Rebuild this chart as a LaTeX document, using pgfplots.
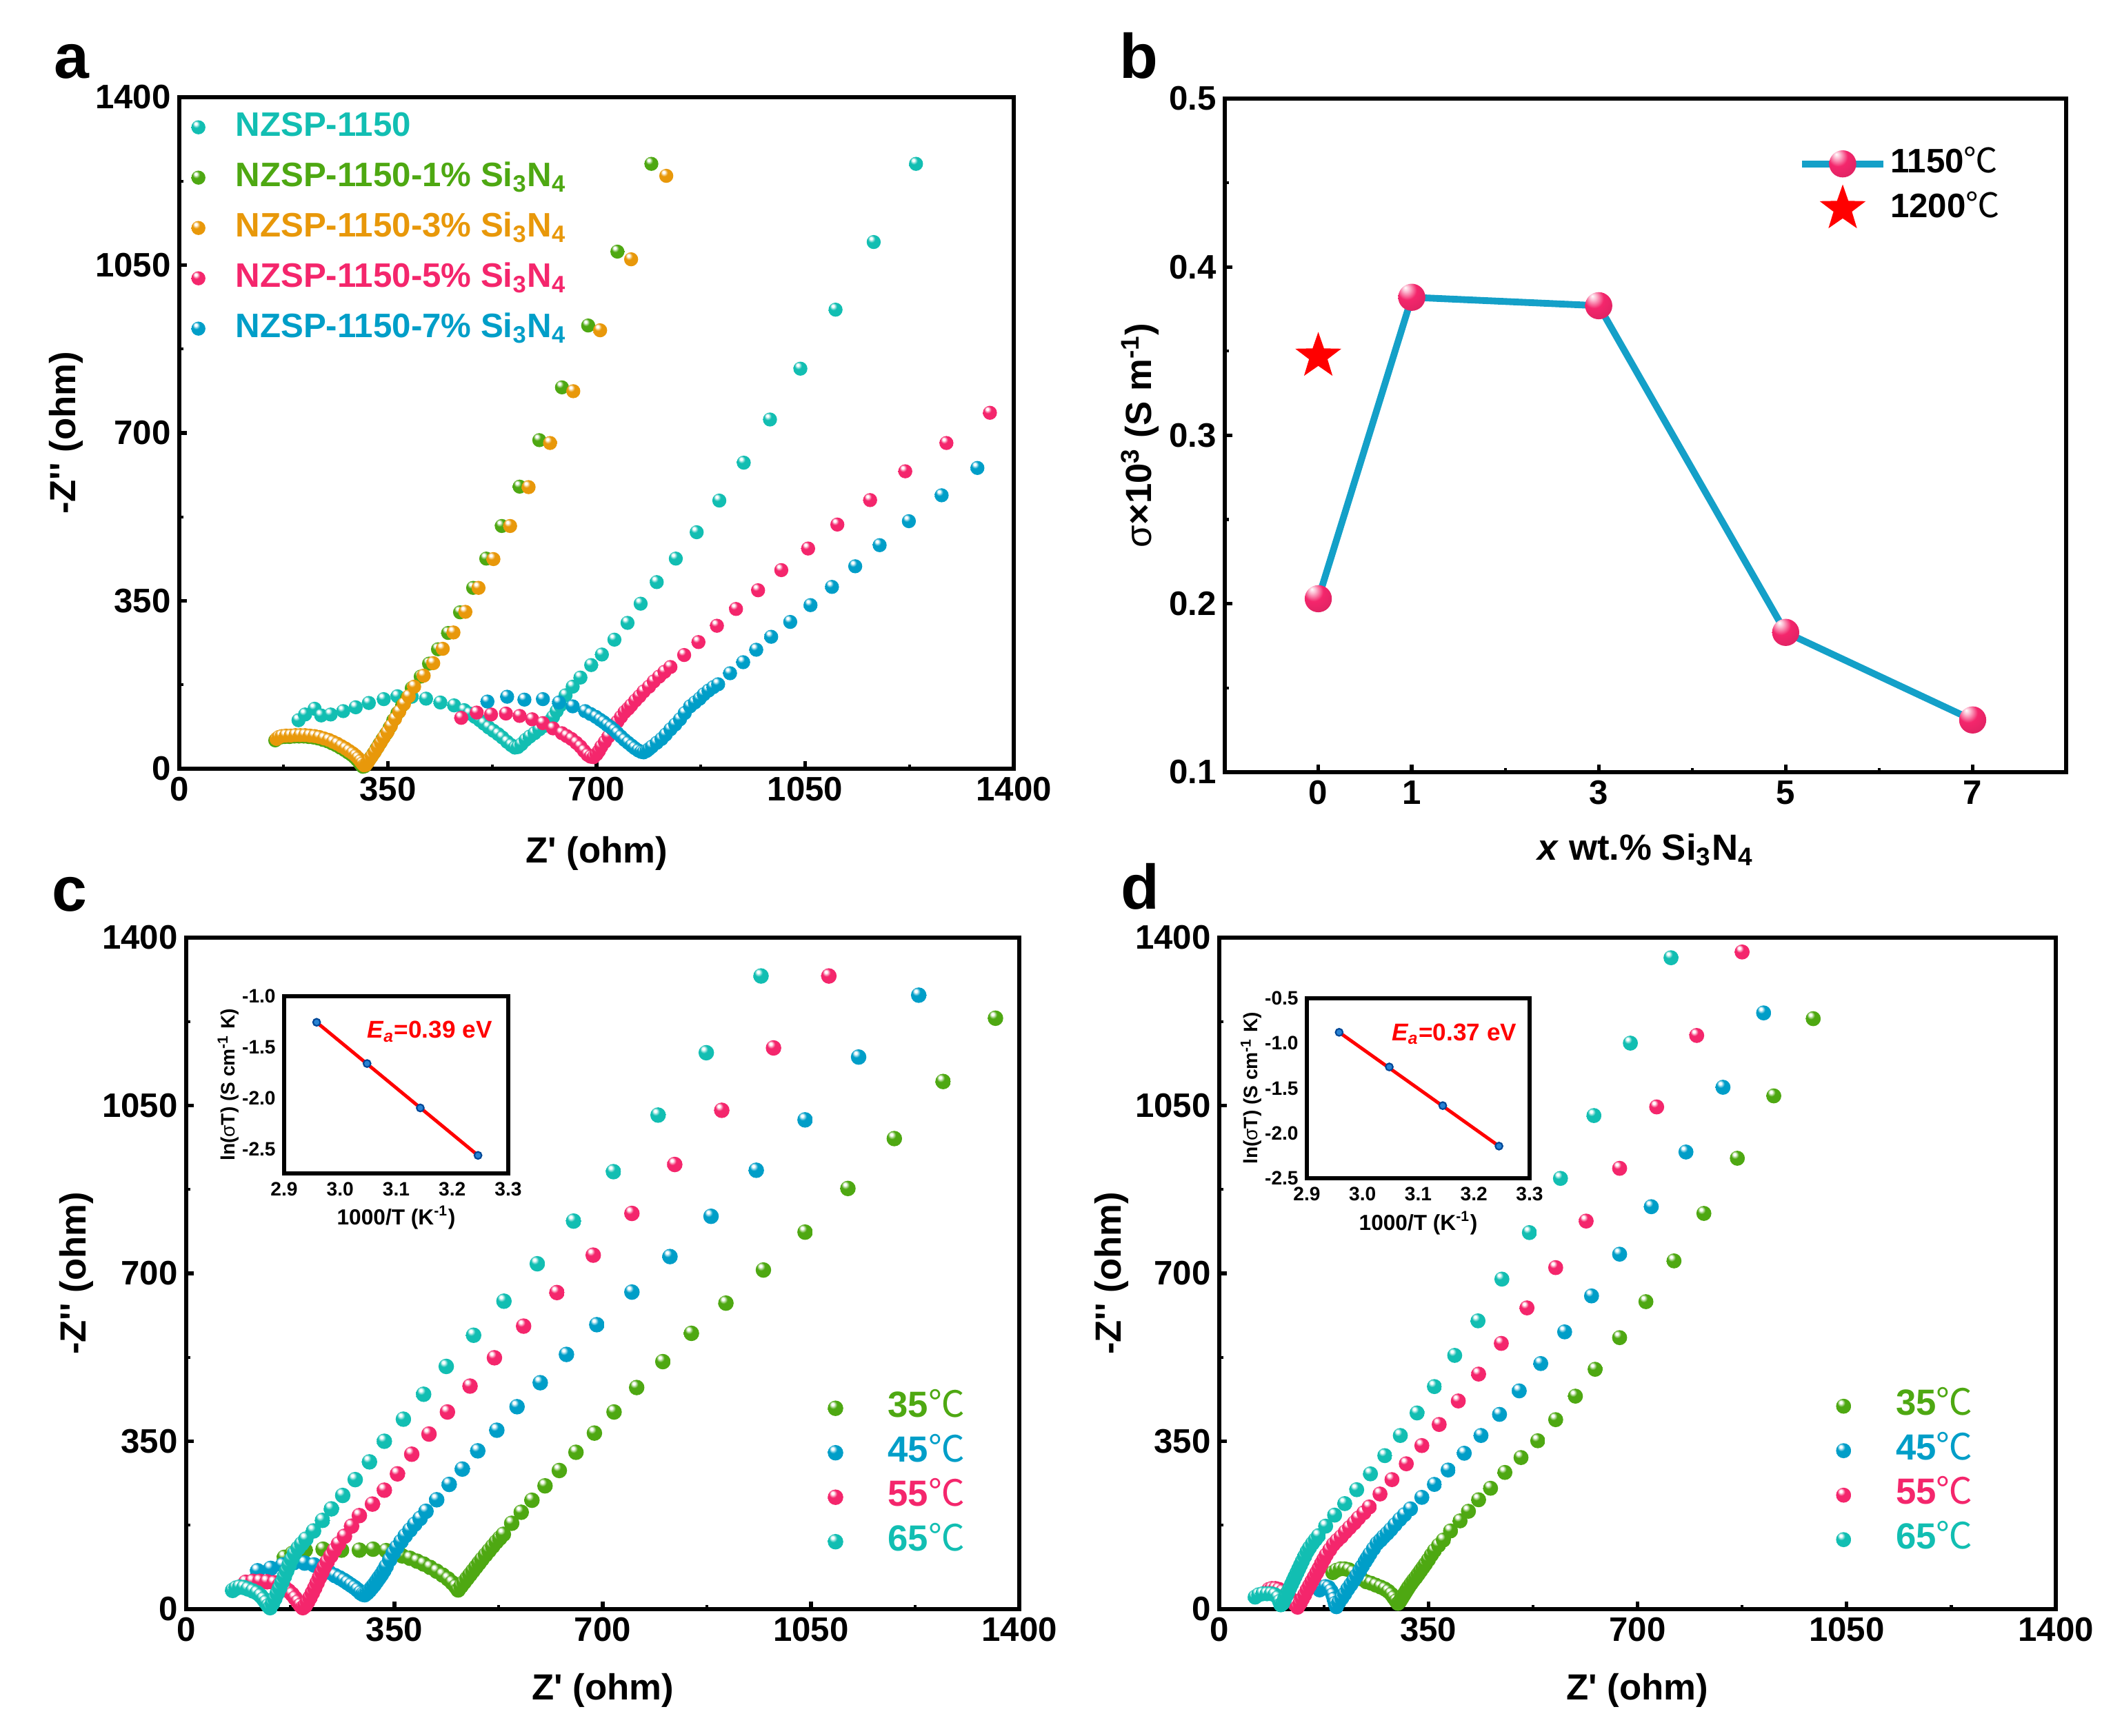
\documentclass[border=0pt]{standalone}
\usepackage{pgfplots}
\pgfplotsset{compat=1.18}
\usepackage{fontspec}
\setmainfont{Liberation Sans}
\newfontfamily\cjk{Noto Sans CJK SC}

\definecolor{cteal}{RGB}{18,190,178}
\definecolor{cgreen}{RGB}{78,168,18}
\definecolor{corange}{RGB}{232,152,10}
\definecolor{cpink}{RGB}{244,38,108}
\definecolor{cblue}{RGB}{0,158,200}
\definecolor{cbline}{RGB}{20,160,200}
\definecolor{cinsf}{RGB}{40,130,210}
\definecolor{cinsd}{RGB}{0,70,150}

\newcommand{\mkball}[2]{%
 \pgfdeclareradialshading{sh#1}{\pgfpoint{-10bp}{14bp}}{color(0bp)=(white); color(4bp)=(white); color(13bp)=(#2); color(48bp)=(#2); color(64bp)=(#2!78!black)}%
 \pgfdeclareplotmark{#1}{\pgfpathcircle{\pgfpointorigin}{\pgfplotmarksize}\pgfshadepath{sh#1}{0}\pgfusepath{}}%
}
\mkball{bteal}{cteal}
\mkball{bgreen}{cgreen}
\mkball{borange}{corange}
\mkball{bpink}{cpink}
\mkball{bblue}{cblue}
\pgfdeclareradialshading{shbigpink}{\pgfpoint{-12bp}{18bp}}{color(0bp)=(white); color(6bp)=(cpink!30!white); color(18bp)=(cpink); color(50bp)=(cpink!85!black); color(68bp)=(cpink!60!black)}
\pgfdeclareplotmark{bigpink}{\pgfpathcircle{\pgfpointorigin}{\pgfplotmarksize}\pgfshadepath{shbigpink}{0}\pgfusepath{}}
\pgfdeclareplotmark{fstar}{%
 \pgfpathmoveto{\pgfpointpolar{90}{\pgfplotmarksize}}%
 \pgfpathlineto{\pgfpointpolar{126}{0.4*\pgfplotmarksize}}%
 \pgfpathlineto{\pgfpointpolar{162}{\pgfplotmarksize}}%
 \pgfpathlineto{\pgfpointpolar{198}{0.4*\pgfplotmarksize}}%
 \pgfpathlineto{\pgfpointpolar{234}{\pgfplotmarksize}}%
 \pgfpathlineto{\pgfpointpolar{270}{0.4*\pgfplotmarksize}}%
 \pgfpathlineto{\pgfpointpolar{306}{\pgfplotmarksize}}%
 \pgfpathlineto{\pgfpointpolar{342}{0.4*\pgfplotmarksize}}%
 \pgfpathlineto{\pgfpointpolar{18}{\pgfplotmarksize}}%
 \pgfpathlineto{\pgfpointpolar{54}{0.4*\pgfplotmarksize}}%
 \pgfpathclose\pgfusepathqfill}

\newcommand{\degC}{{\cjk\mdseries ℃}}
\newcommand{\SiN}{Si\textsubscript{3}N\textsubscript{4}}

\pgfplotsset{
 base/.style={
  scale only axis, anchor=south west, clip=true,
  axis line style={line width=1.8pt},
  tick pos=left, tick align=inside,
  major tick length=0.11cm, minor tick length=0.06cm,
  major tick style={line width=1.5pt,black},
  minor tick style={line width=1.2pt,black},
  /pgf/number format/assume math mode=true,
  /pgf/number format/1000 sep={},
  tick label style={font=\fontsize{14}{16}\selectfont\bfseries},
  label style={font=\fontsize{15}{18}\selectfont\bfseries},
  legend cell align=left,
 },
 eis/.style={base, xmin=0,xmax=1400,ymin=0,ymax=1400,
  xtick={0,350,700,1050,1400}, ytick={0,350,700,1050,1400}, minor tick num=1,
  xlabel={Z\textquotesingle{} (ohm)}, ylabel={-Z\textquotesingle\textquotesingle{} (ohm)}},
 inset/.style={base, major tick length=0pt, minor tick num=0,
  axis line style={line width=1.8pt},
  tick label style={font=\fontsize{8}{9}\selectfont\bfseries},
  xmin=2.9, xmax=3.3, xtick={2.9,3.0,3.1,3.2,3.3},
  xticklabel style={/pgf/number format/.cd, fixed, fixed zerofill, precision=1},
  yticklabel style={/pgf/number format/.cd, fixed, fixed zerofill, precision=1},
  xlabel={1000/T (K\textsuperscript{-1})}, ylabel={ln({\mdseries σ}T) (S cm\textsuperscript{-1} K)},
  xlabel style={font=\fontsize{9}{10}\selectfont\bfseries, at={(axis description cs:0.5,-0.25)}, anchor=center},
  ylabel style={font=\fontsize{8}{9}\selectfont\bfseries, at={(axis description cs:-0.25,0.5)}, anchor=center}},
 lgd/.style={legend style={draw=none, fill=none, inner sep=0pt, column sep=0pt,
  nodes={inner xsep=0.1cm, inner ysep=0.05cm, text height=0.36cm, text depth=0.1cm}}},
}

\begin{document}
\begin{tikzpicture}
\path[use as bounding box] (0,0) rectangle (30.77,25.18);

% ---------------- panel a ----------------
\begin{axis}[eis, at={(2.6cm,14.03cm)}, width=12.1cm, height=9.74cm,
  xlabel style={at={(axis description cs:0.5,-0.126)}, anchor=center},
  ylabel style={at={(axis description cs:-0.136,0.5)}, anchor=center},
  lgd, legend style={at={(0,1)}, anchor=north west, yshift=-0.15cm, row sep=0.17cm,
   font=\fontsize{14}{16}\selectfont\bfseries},
  legend image code/.code={\draw[mark repeat=2,mark phase=2,#1] plot coordinates {(0cm,0cm) (0.27cm,0cm) (0.71cm,0cm)}; \path[draw=none,fill=none] (0cm,-0.05cm) rectangle (0.71cm,0.05cm);},
  mark size=2.9pt]
\addplot[only marks, mark=bteal] coordinates {(200,101) (211,113) (227,125) (238,111) (254,113) (275,120) (296,128) (318,137) (343,145) (366,151) (390,150) (414,146) (438,138) (461,132) (478,122) (487,115) (496,108) (504,101) (511,94) (519,86) (527,79) (535,72) (542,65) (550,56) (557,49) (563,44) (568,45) (574,51) (581,60) (588,67) (596,74) (604,82) (612,89) (620,98) (627,108) (633,120) (639,132) (648,153) (660,171) (673,190) (691,216) (709,238) (730,269) (752,304) (774,344) (801,389) (833,438) (868,493) (906,559) (947,638) (991,728) (1042,834) (1101,957) (1165,1098) (1236,1261)};
\addlegendentry{\textcolor{cteal}{NZSP-1150}}
\addplot[only marks, mark=bgreen] coordinates {(161,59) (165,63) (170,65) (177,66) (185,66) (193,67) (201,67) (209,67) (217,66) (225,65) (233,63) (241,60) (249,57) (256,53) (263,49) (270,44) (277,39) (283,34) (289,29) (294,24) (298,19) (302,13) (305,8) (308,4) (311,5) (314,10) (317,16) (321,23) (326,32) (331,42) (336,52) (341,62) (347,73) (353,86) (359,101) (366,116) (374,132) (382,148) (390,168) (405,192) (419,219) (434,249) (451,283) (471,326) (493,377) (515,438) (541,506) (571,588) (604,685) (642,795) (686,924) (735,1078) (792,1261)};
\addlegendentry{\textcolor{cgreen}{NZSP-1150-1\% \SiN}}
\addplot[only marks, mark=borange] coordinates {(163,62) (167,66) (172,68) (179,69) (187,69) (195,70) (203,70) (211,70) (219,69) (227,68) (235,66) (243,63) (251,60) (258,56) (265,52) (272,47) (279,42) (285,37) (291,32) (296,27) (300,22) (304,16) (307,11) (310,7) (313,8) (316,13) (319,19) (323,26) (328,35) (333,45) (338,55) (343,65) (349,76) (355,89) (362,104) (369,119) (377,135) (385,151) (394,171) (410,194) (426,220) (442,250) (460,284) (480,327) (502,377) (527,437) (555,506) (586,587) (622,679) (661,787) (706,914) (758,1062) (817,1236)};
\addlegendentry{\textcolor{corange}{NZSP-1150-3\% \SiN}}
\addplot[only marks, mark=bpink] coordinates {(473,106) (499,117) (523,113) (548,115) (571,110) (592,103) (610,95) (627,84) (642,74) (650,68) (658,62) (666,54) (673,46) (679,37) (685,29) (690,25) (695,24) (700,30) (704,37) (708,46) (714,56) (720,67) (727,82) (735,98) (741,108) (747,118) (753,125) (758,132) (765,142) (772,151) (779,161) (788,171) (796,182) (805,192) (814,202) (824,212) (847,237) (871,264) (902,298) (934,333) (971,372) (1010,414) (1055,459) (1104,509) (1159,560) (1218,620) (1287,679) (1360,742)};
\addlegendentry{\textcolor{cpink}{NZSP-1150-5\% \SiN}}
\addplot[only marks, mark=bblue] coordinates {(517,140) (550,150) (579,144) (610,145) (637,138) (660,130) (681,120) (690,114) (699,108) (706,102) (712,97) (718,91) (724,86) (730,80) (735,74) (741,67) (747,60) (753,54) (759,48) (764,43) (770,38) (775,35) (779,34) (784,37) (788,41) (793,46) (801,54) (809,62) (816,71) (824,82) (832,92) (840,103) (848,116) (857,130) (865,138) (873,146) (880,155) (888,163) (896,170) (904,176) (924,199) (946,222) (968,248) (993,275) (1025,306) (1059,341) (1095,379) (1134,422) (1175,466) (1224,516) (1279,570) (1339,627) (1402,697)};
\addlegendentry{\textcolor{cblue}{NZSP-1150-7\% \SiN}}
\end{axis}

% ---------------- panel b ----------------
\begin{axis}[base, at={(17.76cm,13.98cm)}, width=12.2cm, height=9.77cm,
  xmin=-1, xmax=8, ymin=0.1, ymax=0.5,
  xtick={0,1,3,5,7}, minor xtick={2,4,6},
  ytick={0.1,0.2,0.3,0.4,0.5}, minor ytick={0.15,0.25,0.35,0.45},
  yticklabel style={/pgf/number format/.cd, fixed, fixed zerofill, precision=1},
  xlabel={\textit{x} wt.\% \SiN},
  ylabel={{\mdseries σ}×10\textsuperscript{3} (S m\textsuperscript{-1})},
  xlabel style={at={(axis description cs:0.5,-0.115)}, anchor=center},
  ylabel style={at={(axis description cs:-0.101,0.5)}, anchor=center},
  lgd, legend style={at={(0.6855,1)}, anchor=north west, yshift=-0.66cm, row sep=0.09cm,
   font=\fontsize{14}{16}\selectfont\bfseries},
  legend image code/.code={\draw[overlay,mark repeat=2,mark phase=2,#1] plot coordinates {(0cm,0cm) (0.59cm,0cm) (1.18cm,0cm)}; \path[draw=none,fill=none] (0cm,-0.1cm) rectangle (1.18cm,0.1cm);}]
\addplot[cbline, line width=2.8pt, mark=bigpink, mark size=5.6pt] coordinates {(0,0.203) (1,0.382) (3,0.377) (5,0.183) (7,0.131)};
\addlegendentry{1150\degC}
\addplot[only marks, red, mark=fstar, mark size=10pt] coordinates {(0,0.347)};
\addlegendentry{1200\degC}
\end{axis}

% ---------------- panel c ----------------
\begin{axis}[eis, at={(2.7cm,1.84cm)}, width=12.08cm, height=9.74cm,
  xlabel style={at={(axis description cs:0.5,-0.121)}, anchor=center},
  ylabel style={at={(axis description cs:-0.132,0.5)}, anchor=center},
  lgd, legend style={at={(0.754,1)}, anchor=north west, yshift=-6.54cm, row sep=0.085cm,
   font=\fontsize{15}{17}\selectfont\bfseries},
  legend image code/.code={\draw[mark repeat=2,mark phase=2,#1] plot coordinates {(0cm,0cm) (0.3cm,0cm) (0.96cm,0cm)}; \path[draw=none,fill=none] (0cm,-0.05cm) rectangle (0.96cm,0.05cm);},
  mark size=3.2pt]
\addplot[only marks, mark=bgreen] coordinates {(165,108) (178,116) (200,123) (230,125) (261,123) (291,123) (314,125) (336,122) (350,116) (363,111) (376,106) (388,100) (399,94) (410,87) (421,79) (431,71) (440,63) (447,55) (453,47) (457,40) (462,48) (467,56) (472,64) (477,72) (482,80) (487,88) (492,96) (497,104) (503,113) (509,122) (515,131) (521,140) (527,148) (533,156) (547,179) (563,202) (581,227) (603,257) (627,289) (655,327) (686,367) (719,411) (757,462) (801,516) (849,575) (907,638) (970,707) (1040,786) (1112,877) (1190,981) (1272,1100) (1360,1232)};
\addlegendentry{\textcolor{cgreen}{35\degC}}
\addplot[only marks, mark=bblue] coordinates {(120,80) (142,85) (162,92) (181,97) (199,96) (215,92) (229,84) (240,77) (250,70) (258,65) (265,60) (271,55) (277,50) (283,45) (288,40) (293,34) (297,31) (300,30) (304,34) (308,39) (312,45) (316,51) (320,58) (324,65) (328,72) (332,80) (336,89) (342,103) (348,117) (354,129) (361,141) (368,153) (376,165) (384,177) (393,189) (403,204) (421,228) (442,260) (464,292) (490,330) (522,373) (556,422) (595,472) (639,531) (690,593) (749,661) (813,735) (882,819) (958,915) (1040,1020) (1130,1151) (1231,1280)};
\addlegendentry{\textcolor{cblue}{45\degC}}
\addplot[only marks, mark=bpink] coordinates {(100,56) (112,58) (124,58) (136,57) (148,55) (157,51) (165,45) (172,38) (178,31) (183,23) (188,15) (192,8) (196,3) (200,7) (204,15) (208,24) (212,34) (216,44) (220,55) (224,66) (228,77) (232,88) (237,99) (243,111) (249,123) (256,136) (266,152) (278,173) (291,195) (313,219) (333,248) (355,282) (379,323) (408,365) (439,411) (477,465) (518,524) (567,590) (623,660) (684,738) (749,825) (821,927) (900,1040) (987,1170) (1080,1320)};
\addlegendentry{\textcolor{cpink}{55\degC}}
\addplot[only marks, mark=bteal] coordinates {(78,39) (84,44) (90,46) (97,45) (104,42) (112,38) (119,34) (125,28) (130,21) (134,14) (138,7) (141,3) (145,12) (149,22) (153,33) (157,44) (161,56) (165,68) (169,80) (173,92) (177,104) (182,116) (188,127) (194,136) (201,146) (214,163) (229,185) (244,209) (263,237) (284,270) (308,307) (333,350) (365,396) (399,448) (437,506) (483,571) (534,642) (590,720) (651,809) (718,912) (793,1030) (874,1160) (966,1320)};
\addlegendentry{\textcolor{cteal}{65\degC}}
\end{axis}

\begin{axis}[inset, at={(4.12cm,8.16cm)}, width=3.25cm, height=2.57cm,
  ymin=-2.74, ymax=-1.0, ytick={-2.5,-2.0,-1.5,-1.0}]
\addplot[red, line width=1.4pt] coordinates {(2.958,-1.256) (3.246,-2.563)};
\addplot[only marks, mark=*, mark size=1.5pt, mark options={fill=cinsf, draw=cinsd, line width=0.6pt}] coordinates {(2.958,-1.256) (3.048,-1.661) (3.143,-2.097) (3.246,-2.563)};
\node[anchor=west, inner sep=0pt, text=red, font=\fontsize{10}{12}\selectfont\bfseries] at (rel axis cs:0.37,0.8) {\textit{E\textsubscript{a}}=0.39 eV};
\end{axis}

% ---------------- panel d ----------------
\begin{axis}[eis, at={(17.68cm,1.84cm)}, width=12.13cm, height=9.74cm,
  xlabel style={at={(axis description cs:0.5,-0.121)}, anchor=center},
  ylabel style={at={(axis description cs:-0.129,0.5)}, anchor=center},
  lgd, legend style={at={(0.721,1)}, anchor=north west, yshift=-6.51cm, row sep=0.085cm,
   font=\fontsize{15}{17}\selectfont\bfseries},
  legend image code/.code={\draw[mark repeat=2,mark phase=2,#1] plot coordinates {(0cm,0cm) (0.3cm,0cm) (0.96cm,0cm)}; \path[draw=none,fill=none] (0cm,-0.05cm) rectangle (0.96cm,0.05cm);},
  mark size=3.1pt]
\addplot[only marks, mark=bgreen] coordinates {(190,76) (196,81) (203,84) (210,84) (217,82) (224,77) (231,70) (238,63) (246,57) (254,54) (262,50) (270,46) (277,42) (283,37) (288,31) (292,24) (296,17) (299,12) (302,16) (305,22) (308,28) (311,34) (314,40) (317,46) (321,53) (325,60) (329,66) (333,73) (337,80) (341,87) (345,94) (350,103) (355,113) (360,122) (367,133) (375,144) (387,163) (403,184) (417,204) (434,228) (454,252) (478,285) (505,316) (533,351) (563,395) (596,444) (629,500) (670,566) (714,641) (761,726) (811,825) (867,940) (928,1070) (994,1231) (1070,1405)};
\addlegendentry{\textcolor{cgreen}{35\degC}}
\addplot[only marks, mark=bblue] coordinates {(168,40) (173,45) (178,47) (183,45) (187,38) (190,30) (192,21) (194,12) (196,5) (200,14) (205,23) (210,32) (215,42) (220,51) (225,60) (230,70) (235,80) (239,89) (244,99) (248,107) (252,115) (258,126) (264,137) (270,144) (275,151) (281,158) (287,166) (294,176) (302,187) (310,197) (320,209) (339,233) (360,260) (383,290) (410,325) (438,362) (469,406) (502,455) (538,512) (578,578) (623,653) (670,740) (723,839) (781,953) (843,1088) (911,1243)};
\addlegendentry{\textcolor{cblue}{45\degC}}
\addplot[only marks, mark=bpink] coordinates {(83,41) (88,43) (94,43) (100,41) (106,37) (112,31) (118,24) (123,17) (127,10) (131,4) (135,12) (139,21) (143,30) (147,40) (151,49) (155,58) (159,67) (163,76) (167,85) (171,95) (175,104) (179,113) (185,124) (191,135) (197,143) (204,151) (211,161) (218,170) (226,180) (233,190) (242,201) (251,213) (269,240) (289,270) (313,303) (339,341) (368,385) (400,434) (434,490) (472,554) (515,628) (563,712) (614,809) (670,919) (732,1047) (799,1196) (875,1370)};
\addlegendentry{\textcolor{cpink}{55\degC}}
\addplot[only marks, mark=bteal] coordinates {(60,25) (66,30) (73,32) (80,32) (87,32) (93,30) (98,24) (101,16) (103,9) (106,12) (109,20) (112,28) (115,36) (118,44) (121,52) (124,60) (127,68) (130,76) (133,84) (136,92) (139,100) (143,110) (147,120) (151,128) (156,137) (161,145) (166,153) (178,173) (193,196) (210,220) (230,249) (253,282) (277,320) (303,362) (331,409) (360,464) (394,529) (433,601) (473,688) (519,785) (571,898) (627,1029) (688,1180) (756,1358)};
\addlegendentry{\textcolor{cteal}{65\degC}}
\end{axis}

\begin{axis}[inset, at={(18.95cm,8.09cm)}, width=3.23cm, height=2.61cm,
  ymin=-2.5, ymax=-0.5, ytick={-2.5,-2.0,-1.5,-1.0,-0.5}]
\addplot[red, line width=1.4pt] coordinates {(2.958,-0.878) (3.245,-2.143)};
\addplot[only marks, mark=*, mark size=1.5pt, mark options={fill=cinsf, draw=cinsd, line width=0.6pt}] coordinates {(2.958,-0.878) (3.048,-1.263) (3.144,-1.693) (3.245,-2.143)};
\node[anchor=west, inner sep=0pt, text=red, font=\fontsize{10}{12}\selectfont\bfseries] at (rel axis cs:0.38,0.8) {\textit{E\textsubscript{a}}=0.37 eV};
\end{axis}

% panel letters
\node[anchor=base west, inner sep=0pt, font=\fontsize{26}{30}\selectfont\bfseries] at (0.78,24.04) {a};
\node[anchor=base west, inner sep=0pt, font=\fontsize{26}{30}\selectfont\bfseries] at (16.23,24.04) {b};
\node[anchor=base west, inner sep=0pt, font=\fontsize{26}{30}\selectfont\bfseries] at (0.75,11.96) {c};
\node[anchor=base west, inner sep=0pt, font=\fontsize{26}{30}\selectfont\bfseries] at (16.25,11.99) {d};
\end{tikzpicture}
\end{document}
